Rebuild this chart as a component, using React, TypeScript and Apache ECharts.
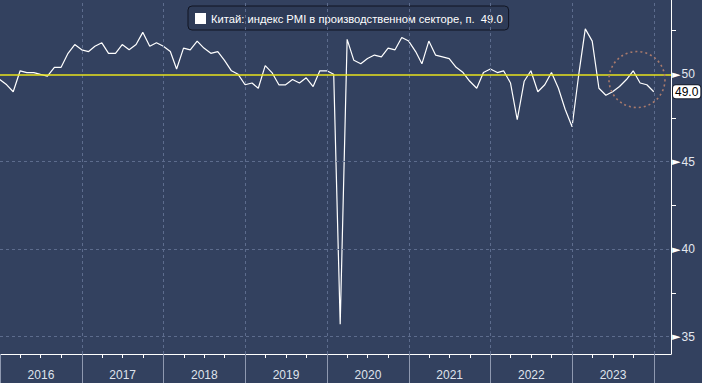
import React, { useEffect, useRef } from "react";
import * as echarts from "echarts";

const seriesName = "Китай: индекс PMI в производственном секторе, п.  49.0";

// Monthly values, plotted at month end
const startYear = 2015;
const startMonth = 12; // first point: Dec 2015
const v2015 = [49.7];
const v2016 = [49.4, 49.0, 50.2, 50.1, 50.1, 50.0, 49.9, 50.4, 50.4, 51.2, 51.7, 51.4];
const v2017 = [51.3, 51.6, 51.8, 51.2, 51.2, 51.7, 51.4, 51.7, 52.4, 51.6, 51.8, 51.6];
const v2018 = [51.3, 50.3, 51.5, 51.4, 51.9, 51.5, 51.2, 51.3, 50.8, 50.2, 50.0, 49.4];
const v2019 = [49.5, 49.2, 50.5, 50.1, 49.4, 49.4, 49.7, 49.5, 49.8, 49.3, 50.2, 50.2];
const v2020 = [50.0, 35.7, 52.0, 50.8, 50.6, 50.9, 51.1, 51.0, 51.5, 51.4, 52.1, 51.9];
const v2021 = [51.3, 50.6, 51.9, 51.1, 51.0, 50.9, 50.4, 50.1, 49.6, 49.2, 50.1, 50.3];
const v2022 = [50.1, 50.2, 49.5, 47.4, 49.6, 50.2, 49.0, 49.4, 50.1, 49.2, 48.0, 47.0];
const v2023 = [50.1, 52.6, 51.9, 49.2, 48.8, 49.0, 49.3, 49.7, 50.2, 49.5, 49.4, 49.0];

const yearLabels = [2016, 2017, 2018, 2019, 2020, 2021, 2022, 2023];
const yTickLabels = [35, 40, 45, 50];
const yMinorTicks = [37.5, 42.5, 47.5, 52.5];
const gridLevels = [35, 40, 45];
const refLevel = 50;
const highlight = { year: 2023, month: 10, day: 17, value: 49.7 };

const allValues = [...v2015, ...v2016, ...v2017, ...v2018, ...v2019, ...v2020, ...v2021, ...v2022, ...v2023];

function monthEnd(i: number) {
  const m0 = startMonth - 1 + i;
  const y = startYear + Math.floor(m0 / 12);
  const m = m0 % 12;
  return new Date(y, m + 1, 0).getTime();
}

const data = allValues.map((v, i) => [monthEnd(i), v]);
const lastValue = allValues[allValues.length - 1];

const t = (y: number, m: number, d: number) => new Date(y, m - 1, d).getTime();
const xMin = t(2016, 1, 1);
const xMax = t(2024, 3, 17);
const yearStarts = [...yearLabels, 2024].map((y) => t(y, 1, 1));
const quarterTicks: number[] = [];
yearLabels.forEach((y) => [4, 7, 10].forEach((m) => quarterTicks.push(t(y, m, 1))));
const midYears = yearLabels.map((y) => t(y, 7, 2));

const FONT = "Liberation Sans";
const BG = "#33415f";
const GRID = "#5d6c8d";

export default function App() {
  const ref = useRef<HTMLDivElement>(null);
  useEffect(() => {
    if (!ref.current) return;
    const chart = echarts.init(ref.current, undefined, { renderer: "svg" });
    chart.setOption({
      animation: false,
      backgroundColor: BG,
      textStyle: { fontFamily: FONT },
      grid: { left: 0, right: 31, top: 0, bottom: 29, containLabel: false },
      legend: {
        left: 188,
        top: 6,
        backgroundColor: "#2e3b57",
        borderColor: "#111522",
        borderWidth: 1,
        borderRadius: 4,
        padding: [7, 6, 6, 7],
        icon: "rect",
        itemWidth: 11,
        itemHeight: 11,
        itemGap: 6,
        data: [seriesName],
        textStyle: { color: "#ffffff", fontSize: 11.2, fontFamily: FONT },
      },
      xAxis: [
        {
          type: "value",
          min: xMin,
          max: xMax,
          position: "bottom",
          axisLine: { show: true, lineStyle: { color: "#ffffff", width: 1 } },
          axisTick: { show: true, customValues: quarterTicks, length: 4, lineStyle: { color: "#ffffff" } },
          axisLabel: {
            customValues: midYears,
            formatter: (v: number) => String(new Date(v).getFullYear()),
            color: "#dfe3ec",
            fontSize: 12,
            margin: 15,
            fontFamily: FONT,
          },
          splitLine: { show: false },
        },
        {
          type: "value",
          min: xMin,
          max: xMax,
          position: "bottom",
          axisLine: { show: false },
          axisTick: { show: true, customValues: yearStarts, length: 30, lineStyle: { color: "#8f99b0" } },
          axisLabel: { show: false },
          splitLine: { show: false },
        },
      ],
      yAxis: {
        type: "value",
        position: "right",
        min: 34,
        max: 54.25,
        axisLine: { show: true, lineStyle: { color: "#ffffff", width: 1 } },
        axisTick: { show: true, customValues: yMinorTicks, length: 5, lineStyle: { color: "#ffffff" } },
        axisLabel: {
          customValues: yTickLabels,
          margin: 1,
          formatter: (v: number) => `{a|►}{b|${v}}`,
          rich: {
            a: { color: "#ffffff", fontSize: 11, fontFamily: "DejaVu Sans", padding: [0, 1, 0, 0] },
            b: { color: "#e4e8f0", fontSize: 12, fontFamily: FONT },
          },
        },
        splitLine: { show: false },
      },
      series: [
        {
          name: "grid",
          type: "line",
          data,
          z: 1,
          symbol: "none",
          silent: true,
          lineStyle: { opacity: 0 },
          markLine: {
            silent: true,
            symbol: "none",
            animation: false,
            label: { show: false },
            lineStyle: { color: GRID, type: [3, 3], width: 1 },
            data: [
              ...gridLevels.map((y) => ({ yAxis: y })),
              ...yearStarts.slice(1).map((x) => ({ xAxis: x })),
            ],
          },
        },
        {
          name: seriesName,
          type: "line",
          data,
          z: 3,
          symbol: "none",
          color: "#ffffff",
          lineStyle: { color: "#ffffff", width: 1.2 },
          markLine: {
            silent: true,
            symbol: "none",
            animation: false,
            data: [
              {
                yAxis: refLevel,
                lineStyle: { color: "#e8e21c", width: 1.5, type: "solid" },
                label: { show: false },
              },
              {
                yAxis: lastValue,
                lineStyle: { color: "rgba(0,0,0,0)", width: 0 },
                label: {
                  show: true,
                  position: "end",
                  distance: 2,
                  formatter: lastValue.toFixed(1),
                  backgroundColor: "#ffffff",
                  borderColor: "#1a1f2e",
                  borderWidth: 1,
                  borderRadius: 3,
                  padding: [1, 2, 0, 2],
                  color: "#000000",
                  fontSize: 12,
                  fontFamily: FONT,
                },
              },
            ],
          },
          markPoint: {
            silent: true,
            animation: false,
            label: { show: false },
            data: [
              {
                coord: [t(highlight.year, highlight.month, highlight.day), highlight.value],
                symbol: "circle",
                symbolSize: 56,
                itemStyle: {
                  color: "rgba(0,0,0,0)",
                  borderColor: "#a97a6c",
                  borderWidth: 1.6,
                  borderType: [2, 3],
                },
              },
            ],
          },
        },
      ],
    });
    return () => chart.dispose();
  }, []);
  return (
    <div
      ref={ref}
      style={{ position: "fixed", left: 0, top: 0, width: 702, height: 383, background: BG }}
    />
  );
}
